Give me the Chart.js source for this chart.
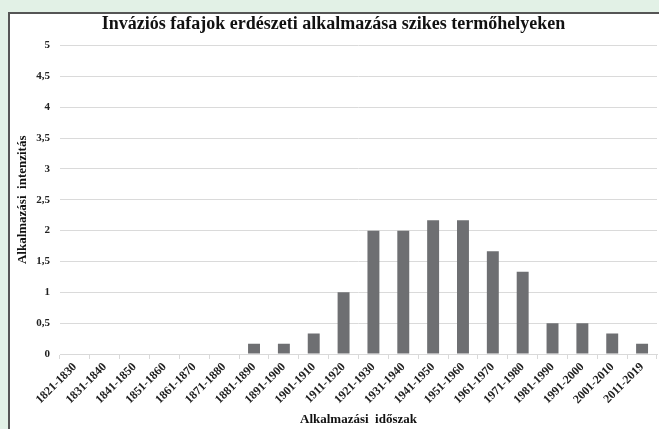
<!DOCTYPE html>
<html>
<head>
<meta charset="utf-8">
<script src="https://cdn.jsdelivr.net/npm/chart.js@4.4.1/dist/chart.umd.min.js"></script>
<style>
  html, body { margin: 0; padding: 0; }
  body { width: 659px; height: 429px; background: #e2f1e6; overflow: hidden; position: relative; }
  #frame {
    position: absolute; left: 8px; top: 12px; width: 660px; height: 430px;
    background: #ffffff; border-left: 2px solid #555; border-top: 2px solid #555;
  }
  #wrap { position: absolute; left: 0; top: 0; width: 649px; height: 415px; }
</style>
</head>
<body>
<div id="frame"><div id="wrap"><canvas id="chart"></canvas></div></div>
<script>
// Categories and values
const periods = ['1821-1830', '1831-1840', '1841-1850', '1851-1860', '1861-1870', '1871-1880',
    '1881-1890', '1891-1900', '1901-1910', '1911-1920', '1921-1930', '1931-1940', '1941-1950',
    '1951-1960', '1961-1970', '1971-1980', '1981-1990', '1991-2000', '2001-2010', '2011-2019'];
const intensity = [0, 0, 0, 0, 0, 0, 0.167, 0.167, 0.333, 1, 2, 2, 2.167, 2.167, 1.667, 1.333,
    0.5, 0.5, 0.333, 0.167];

const serif = '"Liberation Serif", "Times New Roman", serif';

const ctx = document.getElementById('chart').getContext('2d');
new Chart(ctx, {
    type: 'bar',
    data: {
        labels: periods,
        datasets: [{
            data: intensity,
            backgroundColor: '#6e6f72',
            barPercentage: 0.4,
            categoryPercentage: 1.0
        }]
    },
    options: {
        responsive: true,
        maintainAspectRatio: false,
        animation: false,
        layout: { padding: { left: 0, right: 2, top: 0, bottom: 0 } },
        plugins: {
            legend: { display: false },
            tooltip: { enabled: false },
            title: {
                display: true,
                text: 'Inváziós fafajok erdészeti alkalmazása szikes termőhelyeken',
                color: '#111',
                font: { family: serif, size: 18, weight: 'bold' },
                padding: { top: 0, bottom: 10 }
            }
        },
        scales: {
            x: {
                grid: {
                    drawOnChartArea: false,
                    drawTicks: true,
                    tickLength: 5,
                    color: '#d9d9d9'
                },
                border: { color: '#d9d9d9' },
                ticks: {
                    minRotation: 45,
                    maxRotation: 45,
                    autoSkip: false,
                    color: '#222',
                    padding: 1,
                    font: { family: serif, size: 12, weight: 'bold' }
                },
                title: {
                    display: true,
                    text: 'Alkalmazási  időszak',
                    color: '#111',
                    font: { family: serif, size: 13, weight: 'bold' },
                    padding: { top: 0, bottom: 2 }
                },
                afterFit: (scale) => { scale.height = 75; }
            },
            y: {
                min: 0,
                max: 5,
                grid: { drawTicks: false, color: '#dadada' },
                border: { display: false },
                ticks: {
                    stepSize: 0.5,
                    color: '#222',
                    padding: 10,
                    font: { family: serif, size: 11, weight: 'bold' },
                    callback: (v) => String(v).replace('.', ',')
                },
                title: {
                    display: true,
                    text: 'Alkalmazási  intenzitás',
                    color: '#111',
                    font: { family: serif, size: 13, weight: 'bold' },
                    padding: { top: 5, bottom: 0 }
                },
                afterFit: (scale) => { scale.width = 50; }
            }
        }
    }
});
</script>
</body>
</html>
